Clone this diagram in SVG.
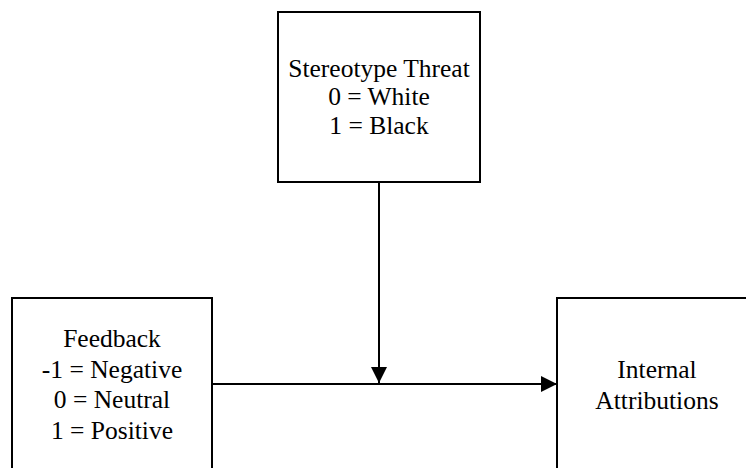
<svg xmlns="http://www.w3.org/2000/svg" width="746" height="468" viewBox="0 0 746 468">
  <style>
    .box { fill: #ffffff; stroke: #000000; stroke-width: 2; }
    .label { font-family: "Liberation Serif", "Times New Roman", serif; font-size: 25.5px; fill: #000000; text-anchor: middle; }
    .link { stroke: #000000; stroke-width: 2; fill: none; }
  </style>
  <defs>
    <marker id="arrow" viewBox="0 0 16 16" refX="16" refY="8" markerWidth="16" markerHeight="16" markerUnits="userSpaceOnUse" orient="auto">
      <path d="M0,0 L16,8 L0,16 Z" fill="#000000"/>
    </marker>
  </defs>
  <rect width="746" height="468" fill="#ffffff"/>

  <!-- moderator -->
  <g id="stereotype-threat">
    <rect class="box" x="278" y="12" width="202" height="170"/>
    <text class="label" x="379" y="76.5">Stereotype Threat</text>
    <text class="label" x="379" y="105">0 = White</text>
    <text class="label" x="379" y="133.5">1 = Black</text>
  </g>

  <!-- predictor -->
  <g id="feedback">
    <rect class="box" x="12" y="298" width="200" height="172"/>
    <text class="label" x="112" y="347">Feedback</text>
    <text class="label" x="112" y="377.5">-1 = Negative</text>
    <text class="label" x="112" y="408">0 = Neutral</text>
    <text class="label" x="112" y="438.5">1 = Positive</text>
  </g>

  <!-- outcome -->
  <g id="internal-attributions">
    <rect class="box" x="557" y="298" width="200" height="172"/>
    <text class="label" x="657" y="378">Internal</text>
    <text class="label" x="657" y="408.5">Attributions</text>
  </g>

  <g id="connectors">
    <line class="link" x1="212" y1="384" x2="557" y2="384" marker-end="url(#arrow)"/>
    <line class="link" x1="379" y1="182" x2="379" y2="383" marker-end="url(#arrow)"/>
  </g>
</svg>
